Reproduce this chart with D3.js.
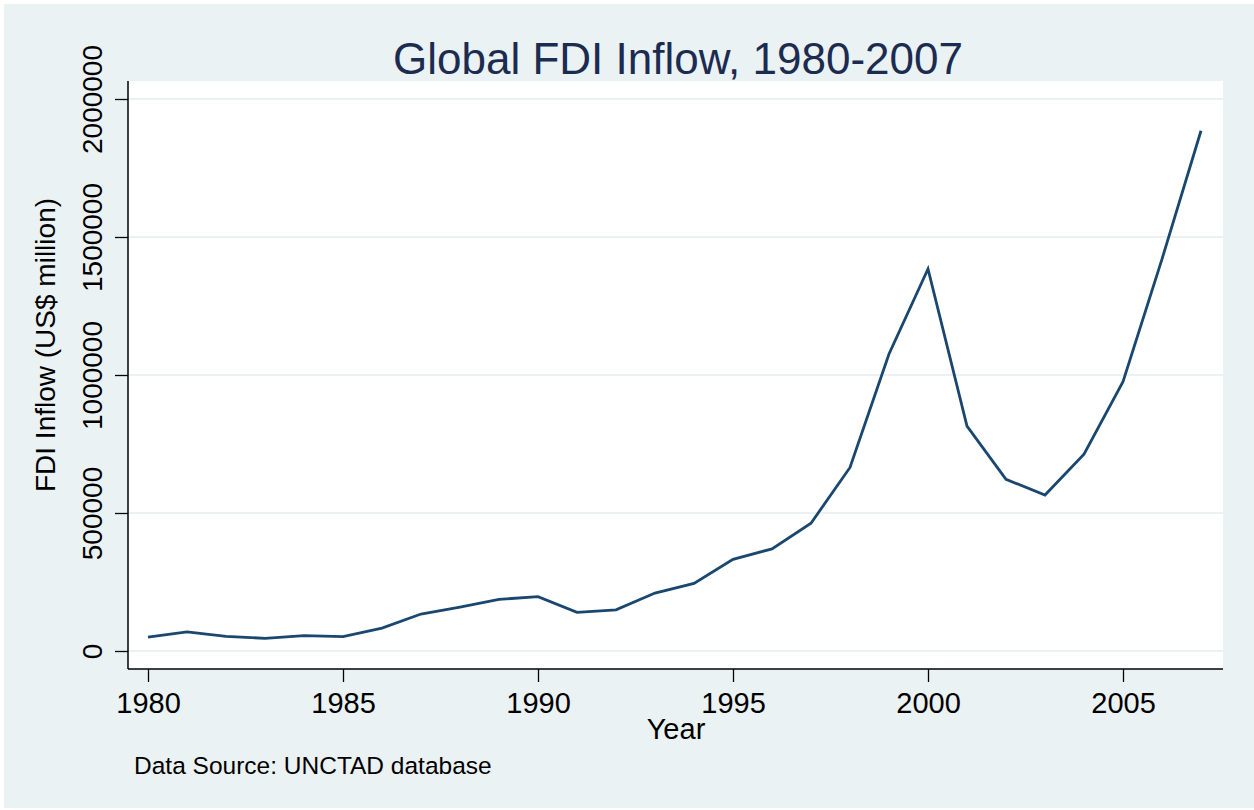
<!DOCTYPE html>
<html lang="en">
  <head>
    <meta charset="utf-8">
    <title>Global FDI Inflow, 1980-2007</title>
    <script src="https://d3js.org/d3.v7.min.js"></script>
    <style>
      body { margin: 0; background: #ffffff; }
      svg text { font-family: "Liberation Sans", Arial, sans-serif; }
    </style>
  </head>
  <body>
    <div id="chart"></div>
    <script>
      // data (US$ million)
      var years = [1980, 1981, 1982, 1983, 1984, 1985, 1986, 1987, 1988, 1989,
                   1990, 1991, 1992, 1993, 1994, 1995, 1996, 1997, 1998, 1999,
                   2000, 2001, 2002, 2003, 2004, 2005, 2006, 2007];
      var inflow = [50000, 69000, 53000, 46000, 55500, 52000, 83000, 134000, 159000, 187000,
                    197000, 140000, 149000, 210000, 245000, 332000, 370000, 463000, 665000, 1076000,
                    1384000, 815000, 622000, 565000, 713000, 976000, 1420000, 1885000];
      var xTicks = [1980, 1985, 1990, 1995, 2000, 2005];
      var yTicks = [0, 500000, 1000000, 1500000, 2000000];

      var w = 1254;
      var h = 810;
      var plot = {left: 128, right: 1223, top: 81, bottom: 669};

      var svg = d3.select("#chart")
                  .append("svg")
                  .attr("width", w)
                  .attr("height", h);

      // outer background + plot region
      svg.append("rect")
         .attr("x", 4).attr("y", 4)
         .attr("width", w - 4).attr("height", h - 6)
         .attr("fill", "#eaf2f3");
      svg.append("rect")
         .attr("x", plot.left).attr("y", plot.top)
         .attr("width", plot.right - plot.left)
         .attr("height", plot.bottom - plot.top)
         .attr("fill", "#ffffff");

      var x = d3.scaleLinear().domain([1980, 2007]).range([148, 1201]);
      var y = d3.scaleLinear().domain([0, 2000000]).range([651, 99]);

      // gridlines
      svg.append("g")
         .selectAll("line")
         .data(yTicks)
         .enter()
         .append("line")
         .attr("x1", plot.left)
         .attr("x2", plot.right)
         .attr("y1", function(d) { return y(d); })
         .attr("y2", function(d) { return y(d); })
         .attr("stroke", "#eaf2f3")
         .attr("stroke-width", 2);

      // y axis
      var yAxis = svg.append("g")
         .attr("transform", "translate(" + plot.left + ",0)")
         .call(d3.axisLeft(y).tickValues(yTicks).tickSize(13).tickFormat(d3.format("d")));
      yAxis.select(".domain").remove();
      yAxis.selectAll(".tick line").attr("stroke", "#000").attr("stroke-width", 1.3);
      yAxis.selectAll(".tick text")
           .attr("transform", "rotate(-90)")
           .attr("x", 0)
           .attr("y", -26)
           .attr("dy", 0)
           .style("text-anchor", "middle")
           .style("font-size", "28px")
           .attr("fill", "#000");

      // x axis
      var xAxis = svg.append("g")
         .attr("transform", "translate(0," + plot.bottom + ")")
         .call(d3.axisBottom(x).tickValues(xTicks).tickSize(13).tickPadding(10).tickFormat(d3.format("d")));
      xAxis.select(".domain").remove();
      xAxis.selectAll(".tick line").attr("stroke", "#000").attr("stroke-width", 1.3);
      xAxis.selectAll(".tick text")
           .style("font-size", "29px")
           .attr("fill", "#000");

      // axis lines
      svg.append("line")
         .attr("x1", plot.left).attr("x2", plot.left)
         .attr("y1", plot.top).attr("y2", plot.bottom)
         .attr("stroke", "#000").attr("stroke-width", 1.5);
      svg.append("line")
         .attr("x1", plot.left).attr("x2", plot.right)
         .attr("y1", plot.bottom).attr("y2", plot.bottom)
         .attr("stroke", "#000").attr("stroke-width", 1.5);

      // the series
      var line = d3.line()
                   .x(function(d, i) { return x(years[i]); })
                   .y(function(d) { return y(d); });
      svg.append("path")
         .datum(inflow)
         .attr("d", line)
         .attr("fill", "none")
         .attr("stroke", "#1a476f")
         .attr("stroke-width", 2.8)
         .attr("stroke-linejoin", "miter");

      // titles
      svg.append("text")
         .attr("x", 678).attr("y", 74)
         .attr("text-anchor", "middle")
         .style("font-size", "44px")
         .attr("fill", "#1c2b50")
         .text("Global FDI Inflow, 1980-2007");

      svg.append("text")
         .attr("transform", "translate(55,345) rotate(-90)")
         .attr("text-anchor", "middle")
         .style("font-size", "28px")
         .attr("fill", "#000")
         .text("FDI Inflow (US$ million)");

      svg.append("text")
         .attr("x", 676).attr("y", 739)
         .attr("text-anchor", "middle")
         .style("font-size", "29px")
         .attr("fill", "#000")
         .text("Year");

      svg.append("text")
         .attr("x", 134).attr("y", 774)
         .style("font-size", "24.5px")
         .attr("fill", "#000")
         .text("Data Source: UNCTAD database");
    </script>
  </body>
</html>
